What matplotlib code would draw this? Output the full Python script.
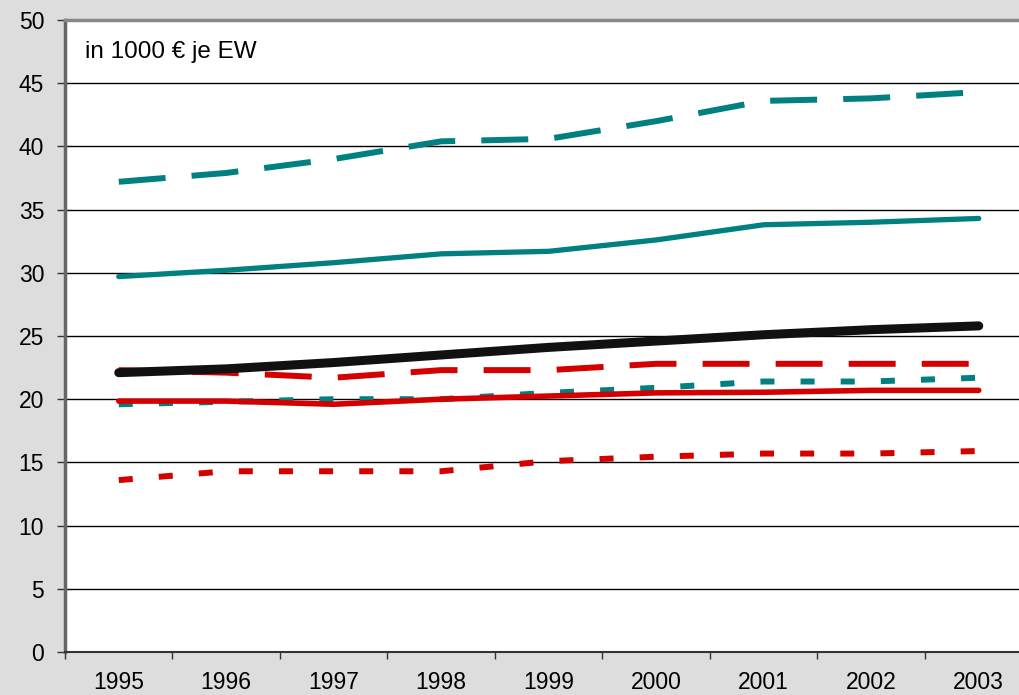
import matplotlib
matplotlib.use('Agg')
import matplotlib.pyplot as plt
import numpy as np

plt.rcParams['font.family'] = ['Liberation Sans', 'DejaVu Sans']
plt.rcParams['lines.scale_dashes'] = False

years = ['1995', '1996', '1997', '1998', '1999', '2000', '2001', '2002', '2003']

teal_dashed = [37.2, 37.9, 39.0, 40.4, 40.6, 42.0, 43.6, 43.8, 44.3]
teal_solid = [29.7, 30.2, 30.8, 31.5, 31.7, 32.6, 33.8, 34.0, 34.3]
black_solid = [22.1, 22.4, 22.9, 23.5, 24.1, 24.6, 25.1, 25.5, 25.8]
red_dashed = [22.3, 22.1, 21.7, 22.3, 22.3, 22.8, 22.8, 22.8, 22.8]
teal_dotted = [19.6, 19.8, 20.0, 20.0, 20.5, 20.9, 21.4, 21.4, 21.7]
red_solid = [19.85, 19.85, 19.6, 20.0, 20.25, 20.5, 20.55, 20.7, 20.7]
red_dotted = [13.6, 14.3, 14.3, 14.3, 15.1, 15.45, 15.7, 15.7, 15.9]

teal = '#008080'
red = '#D40000'

fig = plt.figure(figsize=(10.2, 6.95), dpi=100, facecolor='#DDDDDD')
ax = fig.add_axes([65/1020, 1-652/695, 967.5/1020, 632/695])
ax.set_facecolor('white')

x = np.arange(len(years))
long_dash = (0, (33.8, 18.8))
short_dash = (0, (10.1, 18.8))

ax.plot(x, teal_dashed, color=teal, lw=4.3, linestyle=long_dash, dash_capstyle='butt')
ax.plot(x, teal_solid, color=teal, lw=3.8, solid_capstyle='round')
ax.plot(x, red_dashed, color=red, lw=4.3, linestyle=long_dash, dash_capstyle='butt')
ax.plot(x, teal_dotted, color=teal, lw=4.3, linestyle=short_dash, dash_capstyle='butt')
ax.plot(x, red_solid, color=red, lw=4.0, solid_capstyle='round')
ax.plot(x, red_dotted, color=red, lw=4.3, linestyle=short_dash, dash_capstyle='butt')
ax.plot(x, black_solid, color='#111111', lw=6.5, solid_capstyle='round')

ax.set_xlim(-0.5, len(years) - 0.5)
ax.set_ylim(0, 50)
ax.set_yticks(np.arange(0, 51, 5))
ax.yaxis.grid(True, color='black', lw=1.0)
ax.set_axisbelow(True)

ax.set_xticks(x)
ax.set_xticklabels(years)
ax.set_xticks(np.arange(-0.5, len(years), 1), minor=True)
ax.tick_params(axis='x', which='major', length=0, pad=14, labelsize=16.5)
ax.tick_params(axis='x', which='minor', length=5, width=1, color='#333333')
ax.tick_params(axis='y', length=6, width=1, color='#333333', pad=9, labelsize=16.5)

for s in ['top', 'right']:
    ax.spines[s].set_color('#888888')
    ax.spines[s].set_linewidth(2.5)
ax.spines['left'].set_color('#666666')
ax.spines['left'].set_linewidth(2.5)
ax.spines['bottom'].set_color('#333333')
ax.spines['bottom'].set_linewidth(1.5)

ax.text(20/967.5, 0.95, 'in 1000 € je EW', transform=ax.transAxes,
        fontsize=17.5, va='center', ha='left')

fig.savefig('out.png', dpi=100, facecolor=fig.get_facecolor())
